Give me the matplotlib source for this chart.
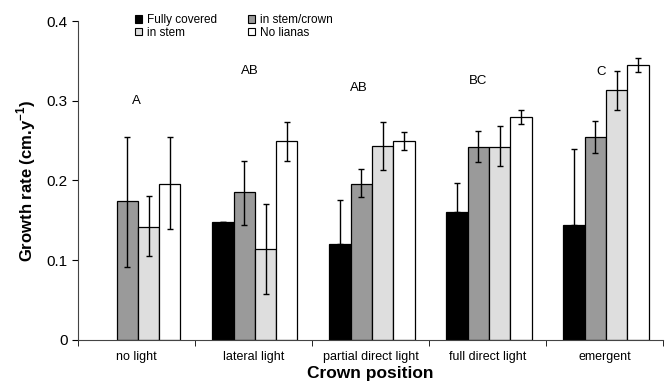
import numpy as np
import matplotlib
matplotlib.use("Agg")
import matplotlib.pyplot as plt
from matplotlib.patches import Patch

categories = ["no light", "lateral light", "partial direct light", "full direct light", "emergent"]
series = ["Fully covered", "in stem/crown", "in stem", "No lianas"]

# mean growth rate per series (NaN = no bar)
fully_covered = [np.nan, 0.148, 0.120, 0.161, 0.144]
stem_crown = [0.174, 0.185, 0.196, 0.242, 0.255]
in_stem = [0.142, 0.114, 0.243, 0.242, 0.313]
no_lianas = [0.196, 0.249, 0.250, 0.280, 0.345]

# error bar bounds (lower, upper)
fully_covered_lo = [np.nan, 0.148, 0.120, 0.161, 0.144]
fully_covered_hi = [np.nan, 0.148, 0.175, 0.197, 0.239]
stem_crown_lo = [0.092, 0.144, 0.179, 0.223, 0.234]
stem_crown_hi = [0.255, 0.225, 0.214, 0.262, 0.275]
in_stem_lo = [0.105, 0.058, 0.213, 0.218, 0.289]
in_stem_hi = [0.180, 0.170, 0.273, 0.268, 0.337]
no_lianas_lo = [0.139, 0.225, 0.238, 0.271, 0.336]
no_lianas_hi = [0.254, 0.273, 0.261, 0.289, 0.354]

letters = ["A", "AB", "AB", "BC", "C"]
letter_y = [0.300, 0.337, 0.316, 0.325, 0.336]
letter_dx = [0.0, -0.03, -0.1, -0.08, -0.03]

plt.rcParams['font.family'] = ['Liberation Sans', 'DejaVu Sans']

fig = plt.figure(figsize=(6.7, 3.84), dpi=100)
ax = fig.add_axes([0.1164, 0.1146, 0.8732, 0.8307])

means = [fully_covered, stem_crown, in_stem, no_lianas]
los = [fully_covered_lo, stem_crown_lo, in_stem_lo, no_lianas_lo]
his = [fully_covered_hi, stem_crown_hi, in_stem_hi, no_lianas_hi]
colors = ["#000000", "#9a9a9a", "#dedede", "#ffffff"]

x = np.arange(len(categories))
w = 0.182
offsets = (np.arange(4) - 1.5) * w + 0.012

for i in range(4):
    m = np.array(means[i], dtype=float)
    lo = np.array(los[i], dtype=float)
    hi = np.array(his[i], dtype=float)
    ax.bar(x + offsets[i], m, width=w, color=colors[i], edgecolor="black",
           linewidth=0.9, zorder=2)
    mask = ~np.isnan(m)
    yerr = np.vstack([m - lo, hi - m])[:, mask]
    ax.errorbar((x + offsets[i])[mask], m[mask], yerr=yerr, fmt="none",
                ecolor="black", elinewidth=1.0, capsize=2.5, capthick=1.0, zorder=3)

for xi, (t, yy, dx) in enumerate(zip(letters, letter_y, letter_dx)):
    ax.text(xi + dx, yy, t, ha="center", va="center", fontsize=9.5)

ax.set_xlim(-0.5, len(categories) - 0.5)
ax.set_ylim(0, 0.4)
ax.set_yticks([0, 0.1, 0.2, 0.3, 0.4])
ax.set_yticklabels(["0", "0.1", "0.2", "0.3", "0.4"], fontsize=11)
ax.set_xticks(x)
ax.set_xticklabels(categories, fontsize=9)
ax.tick_params(axis="x", length=0, pad=8)
ax.set_xticks(np.arange(len(categories) + 1) - 0.5, minor=True)
ax.tick_params(axis="x", which="minor", length=4, direction="out")
ax.tick_params(axis="y", length=4, direction="out", width=0.8)
ax.spines["top"].set_visible(False)
ax.spines["right"].set_visible(False)
for s in ["left", "bottom"]:
    ax.spines[s].set_color("#444444")

ax.set_ylabel("Growth rate (cm.y$^{\\mathregular{-1}}$)", fontsize=12, fontweight="bold", labelpad=6)
ax.set_xlabel("Crown position", fontsize=12.5, fontweight="bold", labelpad=2)

handles = [Patch(facecolor=colors[0], edgecolor="black", linewidth=0.8),
           Patch(facecolor=colors[2], edgecolor="black", linewidth=0.8),
           Patch(facecolor=colors[1], edgecolor="black", linewidth=0.8),
           Patch(facecolor=colors[3], edgecolor="black", linewidth=0.8)]
labels = [series[0], series[2], series[1], series[3]]
leg = ax.legend(handles, labels, ncol=2, loc="upper left", bbox_to_anchor=(0.08, 1.055),
                frameon=False, fontsize=8.5, handlelength=0.6, handleheight=0.6,
                handletextpad=0.4, columnspacing=2.6, labelspacing=0.05)

fig.savefig("out.png", dpi=100)
